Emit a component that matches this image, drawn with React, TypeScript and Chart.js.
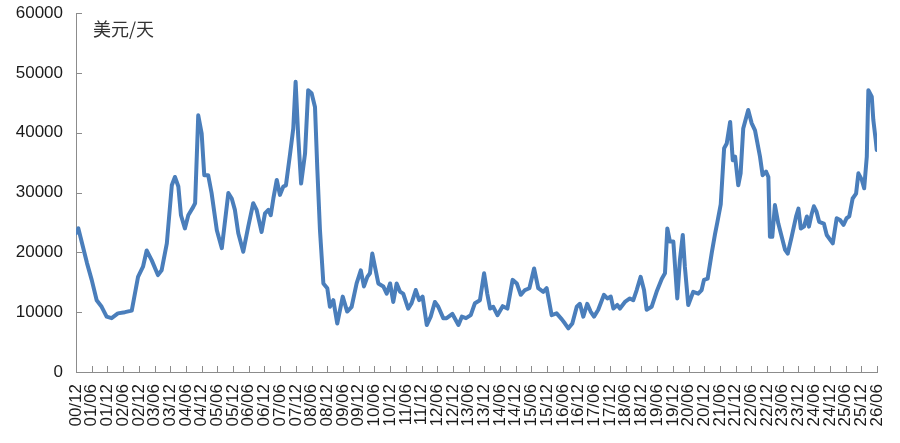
import { useEffect, useRef } from "react";
import { Chart, registerables } from "chart.js";

Chart.register(...registerables);

// x = months after Dec 2000
const months = [
  0, 0.9, 4.2, 6.0, 7.9, 9.8, 11.7, 13.6, 16.0, 18.7,
  21.3, 23.7, 25.6, 27.0, 28.9, 31.3, 32.7, 34.7, 36.6, 37.8,
  39.1, 40.1, 41.6, 42.9, 44.8, 45.5, 46.7, 48.0, 49.0, 50.5,
  51.8, 53.8, 55.7, 58.2, 59.5, 60.7, 62.0, 63.9, 65.8, 67.7,
  69.0, 70.9, 72.2, 73.5, 74.4, 75.4, 76.7, 77.9, 79.2, 80.2,
  81.8, 83.0, 83.9, 84.9, 86.0, 87.5, 88.7, 90.0, 91.3, 92.2,
  93.2, 94.5, 96.0, 97.0, 98.3, 99.8, 101.9, 103.6, 105.3, 107.2,
  108.8, 110.0, 111.3, 112.3, 113.2, 114.2, 115.5, 117.4, 118.7, 120.0,
  121.2, 122.5, 123.8, 125.0, 126.9, 128.2, 129.8, 131.1, 132.4, 134.0,
  135.5, 137.1, 138.4, 140.3, 141.6, 143.8, 146.1, 147.4, 149.0, 150.8,
  152.4, 154.3, 155.9, 157.1, 158.2, 159.4, 161.0, 163.0, 164.8, 166.8,
  168.4, 169.9, 171.5, 173.2, 175.0, 176.6, 178.5, 179.8, 181.7, 183.6,
  185.6, 186.8, 188.1, 189.6, 191.3, 192.5, 193.8, 195.3, 196.6, 197.9,
  199.5, 201.7, 203.0, 204.3, 205.3, 206.8, 207.8, 209.7, 211.6, 212.9,
  214.2, 215.7, 217.0, 218.0, 219.9, 221.8, 223.8, 225.0, 225.9, 226.9,
  228.2, 229.7, 230.7, 231.8, 232.6, 233.9, 235.8, 237.7, 239.0, 239.9,
  241.3, 242.9, 244.1, 245.0, 246.3, 247.6, 248.6, 249.9, 250.9, 251.8,
  253.0, 253.9, 254.9, 256.8, 258.1, 259.4, 261.3, 262.3, 263.6, 264.5,
  265.1, 266.0, 267.0, 268.3, 269.6, 270.9, 271.9, 273.4, 275.1, 276.0,
  276.9, 278.1, 279.2, 280.0, 281.1, 281.9, 282.9, 283.9, 285.7, 286.8,
  289.1, 290.6, 291.9, 293.2, 294.4, 295.4, 296.7, 298.0, 298.9, 300.2,
  301.1, 302.1, 302.7, 304.0, 304.6, 305.5, 305.9,
];

// daily rate, USD/day
const rates = [
  23200, 24000, 18200, 15400, 12000, 10900, 9250, 9000, 9800, 10000,
  10250, 15900, 17600, 20300, 18700, 16200, 17000, 21500, 31200, 32600,
  31000, 26200, 24000, 26200, 27600, 28200, 42900, 39900, 32900, 32900,
  29900, 23700, 20700, 29900, 29000, 27100, 23200, 20100, 24300, 28200,
  27100, 23400, 26500, 27100, 26200, 29000, 32100, 29600, 31000, 31200,
  36500, 40700, 48500, 39300, 31500, 36500, 47100, 46600, 44300, 33800,
  23700, 14800, 14000, 10900, 12000, 8100, 12600, 10100, 10900, 14800,
  17000, 14300, 15900, 16500, 19800, 17600, 14800, 14300, 13100, 14800,
  11700, 14800, 13400, 13100, 10600, 11500, 13700, 12000, 12600, 7850,
  9250, 11700, 10900, 9000, 9000, 9700, 7850, 9250, 9000, 9500,
  11500, 12000, 16500, 13100, 10600, 10900, 9500, 11000, 10600, 15400,
  14800, 12900, 13700, 14000, 17300, 14000, 13400, 14000, 9500, 9800,
  8800, 8100, 7300, 8100, 10900, 11400, 9250, 11400, 10100, 9250,
  10400, 12900, 12300, 12600, 10600, 11200, 10600, 11700, 12300, 12000,
  13700, 15900, 13700, 10400, 10900, 13400, 15600, 16500, 24000, 21800,
  21800, 12300, 18700, 22900, 17600, 11200, 13400, 13100, 13700, 15400,
  15600, 20000, 23000, 25000, 28000, 37400, 38200, 41800, 35400, 36000,
  31200, 33200, 40700, 43800, 41600, 40400, 36000, 32900, 33500, 32600,
  22600, 22600, 27900, 24800, 22600, 20400, 19800, 22600, 26000, 27300,
  24000, 24300, 26000, 24300, 26500, 27700, 26800, 25100, 24800, 22900,
  21500, 25700, 25400, 24600, 25700, 26000, 29000, 29800, 33200, 32100,
  30700, 36000, 47100, 46000, 42100, 38800, 37100,
];

// one label every 6 months
const tickLabels = [
  "00/12", "01/06", "01/12", "02/06", "02/12", "03/06", "03/12", "04/06",
  "04/12", "05/06", "05/12", "06/06", "06/12", "07/06", "07/12", "08/06",
  "08/12", "09/06", "09/12", "10/06", "10/12", "11/06", "11/12", "12/06",
  "12/12", "13/06", "13/12", "14/06", "14/12", "15/06", "15/12", "16/06",
  "16/12", "17/06", "17/12", "18/06", "18/12", "19/06", "19/12", "20/06",
  "20/12", "21/06", "21/12", "22/06", "22/12", "23/06", "23/12", "24/06",
  "24/12", "25/06", "25/12", "26/06",
];

const unitLabel = "美元/天";
const axisColor = "#8c8c8c";

// short tick marks pointing into the plot, plus the unit text
const innerTicks = {
  id: "innerTicks",
  beforeDatasetsDraw(chart: any) {
    const { ctx, chartArea, scales } = chart;
    ctx.save();
    ctx.strokeStyle = axisColor;
    ctx.lineWidth = 1;
    ctx.beginPath();
    scales.x.ticks.forEach((t: any) => {
      const px = Math.round(scales.x.getPixelForValue(t.value)) + 0.5;
      ctx.moveTo(px, chartArea.bottom);
      ctx.lineTo(px, chartArea.bottom - 6);
    });
    scales.y.ticks.forEach((t: any) => {
      const py = Math.round(scales.y.getPixelForValue(t.value)) + 0.5;
      ctx.moveTo(chartArea.left, py);
      ctx.lineTo(chartArea.left + 6, py);
    });
    ctx.stroke();
    ctx.fillStyle = "#333333";
    ctx.font = '18px "Noto Sans CJK SC"';
    ctx.textBaseline = "middle";
    ctx.fillText(unitLabel, chartArea.left + 17, chartArea.top + 16);
    ctx.restore();
  },
};

export default function App() {
  const canvasRef = useRef<HTMLCanvasElement>(null);

  useEffect(() => {
    if (!canvasRef.current) return;
    const chart = new Chart(canvasRef.current, {
      type: "line",
      data: {
        datasets: [
          {
            data: months.map((m, i) => ({ x: m, y: rates[i] })),
            borderColor: "#4A7EBB",
            borderWidth: 4,
            pointRadius: 0,
            tension: 0,
            borderJoinStyle: "round",
            borderCapStyle: "round",
          },
        ],
      },
      options: {
        animation: false,
        responsive: true,
        maintainAspectRatio: false,
        layout: { padding: { top: 13, right: 23, left: 0, bottom: 0 } },
        plugins: {
          legend: { display: false },
          tooltip: { enabled: false },
        },
        scales: {
          x: {
            type: "linear",
            min: 0,
            max: 306,
            afterBuildTicks: (scale: any) => {
              scale.ticks = tickLabels.map((_, i) => ({ value: i * 6 }));
            },
            afterFit: (scale: any) => {
              scale.height = 71;
              scale.paddingLeft = 0;
              scale.paddingRight = 0;
            },
            grid: { display: true, drawOnChartArea: false, drawTicks: false },
            border: { color: axisColor, width: 1 },
            ticks: {
              autoSkip: false,
              minRotation: 90,
              maxRotation: 90,
              padding: 12,
              color: "#1a1a1a",
              font: { family: "Liberation Sans", size: 17 },
              callback: (value: any) => tickLabels[Math.round(Number(value) / 6)],
            },
          },
          y: {
            min: 0,
            max: 60000,
            afterFit: (scale: any) => {
              scale.width = 76;
              scale.paddingTop = 0;
              scale.paddingBottom = 0;
            },
            grid: { display: true, drawOnChartArea: false, drawTicks: false },
            border: { color: axisColor, width: 1 },
            ticks: {
              stepSize: 10000,
              padding: 13,
              color: "#1a1a1a",
              font: { family: "Liberation Sans", size: 17 },
              callback: (value: any) => String(value),
            },
          },
        },
      },
      plugins: [innerTicks],
    });
    return () => chart.destroy();
  }, []);

  return (
    <div style={{ position: "absolute", left: 0, top: 0, width: 900, height: 443, background: "#fff" }}>
      <canvas ref={canvasRef} />
    </div>
  );
}
